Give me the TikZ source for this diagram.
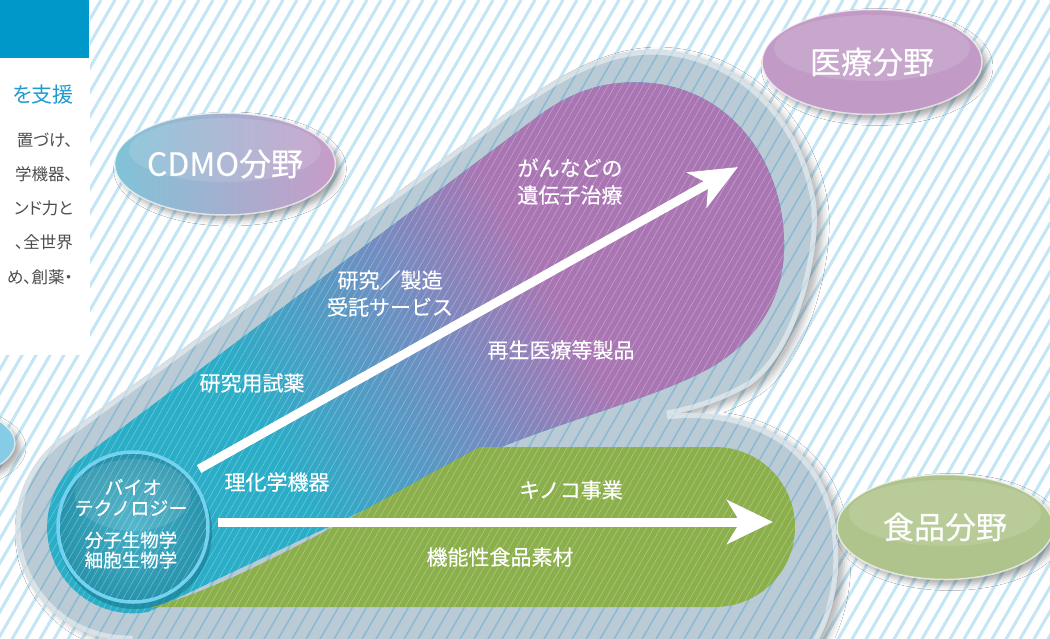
\documentclass[tikz,border=0pt]{standalone}
\usepackage{fontspec}
\newfontfamily\jp{Noto Sans CJK JP}
\newfontfamily\jpb[FakeBold=0.8]{Noto Sans CJK JP}
\newfontfamily\jpm[FakeBold=0.3]{Noto Sans CJK JP}
\newfontfamily\jpp[RawFeature=+palt]{Noto Sans CJK JP}
\usetikzlibrary{arrows.meta,shapes.geometric,shadows.blur}
\definecolor{stripec}{HTML}{C4E5F5}
\definecolor{glassc}{HTML}{BACBD5}
\definecolor{glassstripec}{HTML}{8DBAD3}
\definecolor{glassedge}{HTML}{D6DFE5}
\definecolor{tealc}{HTML}{2AADC7}
\definecolor{midc}{HTML}{6E8FC2}
\definecolor{purc}{HTML}{A976B3}
\definecolor{greenc}{HTML}{8BAF4B}
\definecolor{ringc}{HTML}{72D2F0}
\definecolor{bioin}{HTML}{42AFC6}
\definecolor{bioout}{HTML}{2792AB}
\definecolor{bioshadow}{HTML}{17788E}
\definecolor{headc}{HTML}{0098C9}
\definecolor{bluet}{HTML}{1E9BD0}
\definecolor{grayt}{HTML}{4D4D4D}
\definecolor{cdmoL}{HTML}{80C3D7}
\definecolor{cdmoR}{HTML}{C79CC8}
\definecolor{iryoc}{HTML}{C19BC6}
\definecolor{shokuc}{HTML}{AFC48C}
\definecolor{leftc}{HTML}{86CCE4}
\tikzset{
  bgstripe/.style={line width=3pt, color=stripec},
  glassstripe/.style={line width=1.6pt, color=glassstripec},
  finestripe/.style={line width=0.6pt, color=white, opacity=0.3},
  lbl/.style={text=white, inner sep=0pt, align=center, font=\jpm\fontsize{21}{27}\selectfont},
  biolbl/.style={text=white, inner sep=0pt, align=center, font=\jpm\fontsize{19}{21}\selectfont},
  fieldell/.style={ellipse, inner sep=0pt, text=white, font=\jpb\fontsize{31}{31}\selectfont,
    draw=white, draw opacity=0.65, line width=1.5pt,
    blur shadow={shadow xshift=5pt, shadow yshift=-5pt, shadow blur radius=6pt, shadow opacity=35}},
  bigarrow/.style={line width=9pt, white},
  arrowshadow/.style={line width=9pt, black, opacity=0.18},
  sidetext/.style={anchor=east, inner sep=0pt, text=grayt, font=\jpp\fontsize{16.5}{20}\selectfont},
  biocircle/.style={circle, minimum size=150pt, inner sep=0pt, draw=ringc, line width=3.5pt, inner color=bioin, outer color=bioout},
}
\def\glasspath{(128,640) arc[start angle=90,end angle=234,radius=112] -- (470,140) .. controls (540,88) and (590,52) .. (650,50) .. controls (730,50) and (800,110) .. (815,200) .. controls (822,245) and (800,350) .. (750,385) .. controls (725,400) and (695,410) .. (667,415) .. controls (720,408) and (790,425) .. (820,480) .. controls (845,525) and (845,600) .. (812,650) -- (128,650) -- cycle}
\def\bandpath{(82.5,457.4) -- (541,114) .. controls (580,86) and (615,80) .. (650,83) .. controls (730,90) and (782,160) .. (784,240) .. controls (786,300) and (755,340) .. (715,365) .. controls (660,398) and (560,420) .. (470,460) -- (148,612) arc[start angle=80,end angle=234,radius=86] -- cycle}
\def\greenpath{(480,447) -- (715,447) arc[start angle=-90,end angle=90,radius=80] -- (150,607) .. controls (230,590) and (380,500) .. (480,447) -- cycle}
\begin{document}
\begin{tikzpicture}[x=1pt,y=-1pt]
\useasboundingbox (0,0) rectangle (1050,638);
\begin{scope}
\clip (0,0) rectangle (1050,638);
\fill[white] (0,0) rectangle (1050,638);
% background stripes
\foreach \i in {-30,...,80} {\draw[bgstripe] (\i*14,660) -- ++(381,-660);}
% left text box
\fill[white] (0,0) rectangle (90,355);
\fill[headc] (0,0) rectangle (89,58);
\node[anchor=east, inner sep=0pt, text=bluet, font=\jpp\fontsize{21}{24}\selectfont] (t0) at (74,95) {を支援};
\node[sidetext] (t1) at (73,140) {置づけ、};
\node[sidetext] (t2) at (73,174) {学機器、};
\node[sidetext] (t3) at (73,208) {ンド力と};
\node[sidetext] (t4) at (73,242) {、全世界};
\node[sidetext] (t5) at (73,277) {め、創薬・};
% partial ellipse at left edge
\node[ellipse, minimum width=190pt, minimum height=80pt, fill=leftc, draw=white, draw opacity=0.6, line width=1.5pt,
  blur shadow={shadow xshift=5pt, shadow yshift=-5pt, shadow blur radius=6pt, shadow opacity=35}] (leftfield) at (-80,443) {};
% glass
\path[blur shadow={shadow xshift=6pt, shadow yshift=-4pt, shadow blur radius=7pt, shadow opacity=30}, fill=glassc] \glasspath;
\begin{scope}
\clip \glasspath;
\foreach \i in {-30,...,80} {\draw[glassstripe] (\i*14,660) -- ++(381,-660);}
\draw[white, opacity=0.45, line width=9pt] \glasspath;
\end{scope}
\draw[glassedge, line width=1.2pt] \glasspath;
% gradient band
\begin{scope}
\clip \bandpath;
\fill[tealc] (0,0) rectangle (1050,638);
\begin{scope}[rotate=30]
\foreach \a in {0,6,...,174} {\pgfmathsetmacro\p{\a/180*100}\fill[midc!\p!tealc] (10+\a,-200) rectangle (16.6+\a,1200);}
\foreach \a in {0,5,...,135} {\pgfmathsetmacro\p{\a/140*100}\fill[purc!\p!midc] (190+\a,-200) rectangle (195.6+\a,1200);}
\fill[purc] (330,-200) rectangle (1500,1200);
\end{scope}
\foreach \i in {-60,...,160} {\draw[finestripe] (\i*7+3.5,660) -- ++(381,-660);}
\end{scope}
% green band
\begin{scope}
\clip \greenpath;
\fill[greenc] (0,0) rectangle (1050,638);
\foreach \i in {-60,...,160} {\draw[finestripe] (\i*7+3.5,660) -- ++(381,-660);}
\end{scope}
% bio circle
\fill[bioshadow, opacity=0.6] (135,532) circle (77);
\node[biocircle] (bio) at (133,527) {};
\fill[white, opacity=0.10] (133,495) ellipse (58 and 36);
\begin{scope}
\clip (133,527) circle (74);
\foreach \i in {-60,...,160} {\draw[finestripe] (\i*7+3.5,660) -- ++(381,-660);}
\end{scope}
\node[biolbl] (bio1) at (133,487) {バイオ};
\node[biolbl] (bio2) at (131,508) {テクノロジー};
\node[biolbl, font=\jpm\fontsize{18.5}{21}\selectfont] (bio3) at (131,540) {分子生物学};
\node[biolbl, font=\jpm\fontsize{18.5}{21}\selectfont] (bio4) at (131,560) {細胞生物学};
% arrows
\coordinate (d0) at (199,469);
\coordinate (d1) at (738,167);
\coordinate (h0) at (218,522);
\coordinate (h1) at (773,522);
\begin{scope}[shift={(2,4)}]
\draw[arrowshadow, -{Stealth[length=47pt,width=40pt,inset=13pt]}] (d0) -- (d1);
\draw[arrowshadow, -{Stealth[length=46pt,width=44pt,inset=13pt]}] (h0) -- (h1);
\end{scope}
\draw[bigarrow, -{Stealth[length=47pt,width=40pt,inset=13pt]}] (d0) -- (d1);
\draw[bigarrow, -{Stealth[length=46pt,width=44pt,inset=13pt]}] (h0) -- (h1);
% labels
\node[lbl] (gan) at (570,181.5) {がんなどの\\遺伝子治療};
\node[lbl] (cmo) at (390,293.5) {研究／製造\\受託サービス};
\node[lbl] (saisei) at (561,350) {再生医療等製品};
\node[lbl] (reagent) at (252,383) {研究用試薬};
\node[lbl] (rika) at (277,482) {理化学機器};
\node[lbl] (kinoko) at (571,490) {キノコ事業};
\node[lbl] (kino) at (500,557) {機能性食品素材};
% field ellipses
\node[fieldell, minimum width=216pt, minimum height=102pt, left color=cdmoL, right color=cdmoR, font=\jpb\fontsize{32}{32}\selectfont] (cdmo) at (225,164) {CDMO分野};
\fill[white, opacity=0.12] (225,150) ellipse (96 and 32);
\node[fieldell, minimum width=220pt, minimum height=105pt, fill=iryoc] (iryo) at (872,62) {医療分野};
\fill[white, opacity=0.12] (872,48) ellipse (98 and 33);
\node[fieldell, minimum width=216pt, minimum height=105pt, fill=shokuc] (shoku) at (945,527) {食品分野};
\fill[white, opacity=0.12] (945,513) ellipse (96 and 33);
\end{scope}
\end{tikzpicture}
\end{document}
